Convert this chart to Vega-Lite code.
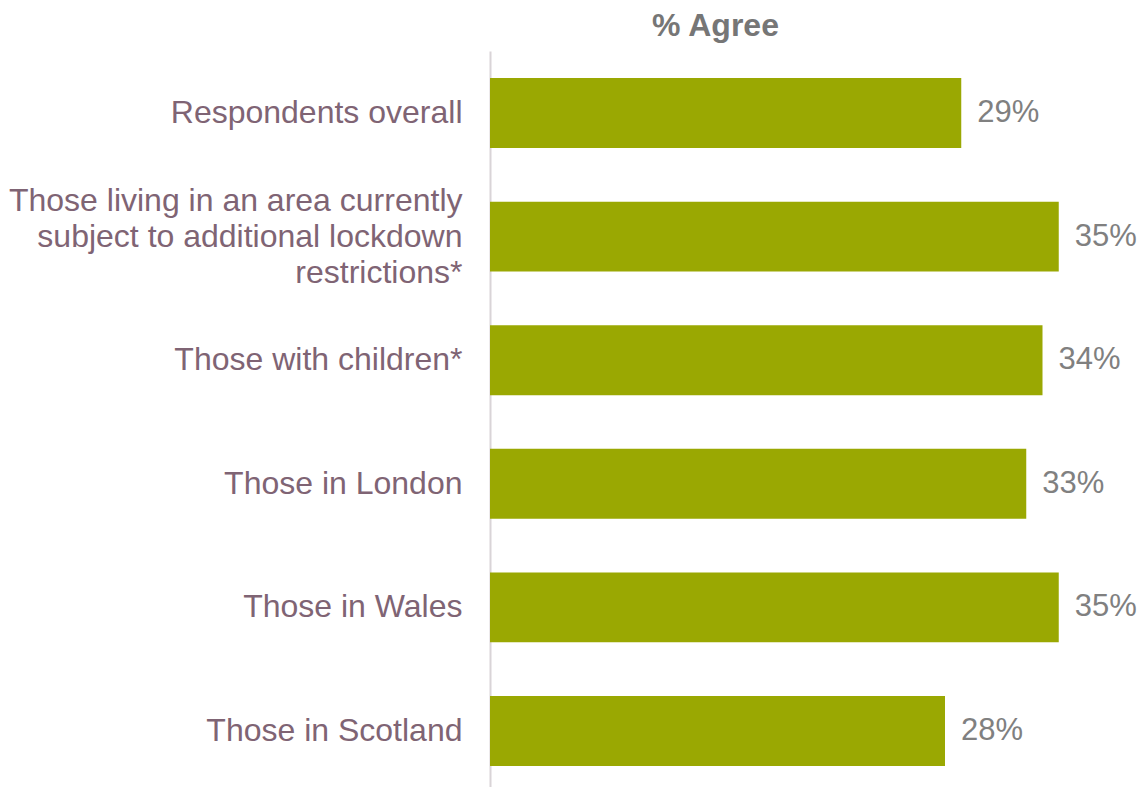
{
  "$schema": "https://vega.github.io/schema/vega-lite/v6.json",
  "autosize": "none",
  "padding": {"left": 490, "top": 51, "right": 6, "bottom": 0},
  "width": 650,
  "height": 736,
  "background": "white",
  "config": {"view": {"stroke": null}, "font": "Liberation Sans"},
  "data": {
    "values": [
      {"group": "Respondents overall", "pct": 0.29},
      {"group": "Those living in an area currently|subject to additional lockdown|restrictions*", "pct": 0.35},
      {"group": "Those with children*", "pct": 0.34},
      {"group": "Those in London", "pct": 0.33},
      {"group": "Those in Wales", "pct": 0.35},
      {"group": "Those in Scotland", "pct": 0.28}
    ]
  },
  "encoding": {
    "y": {
      "field": "group",
      "type": "nominal",
      "sort": null,
      "scale": {"paddingInner": 0.434, "paddingOuter": 0.1945, "align": 0.5625},
      "axis": {
        "title": null,
        "labelExpr": "split(datum.label, '|')",
        "labelFont": "Liberation Sans",
        "labelFontSize": 32,
        "labelColor": "#7f6474",
        "labelLineHeight": 36,
        "labelPadding": 28,
        "labelLimit": 500,
        "labelOffset": {"condition": {"test": "indexof(datum.value, '|') >= 0", "value": -36}, "value": 0},
        "ticks": false,
        "domainColor": "#d9d4d7",
        "domainWidth": 2,
        "grid": false
      }
    },
    "x": {
      "field": "pct",
      "type": "quantitative",
      "scale": {"domain": [0, 0.4]},
      "axis": {
        "orient": "top",
        "title": "% Agree",
        "titleFont": "Liberation Sans",
        "titleFontSize": 32,
        "titleFontWeight": "bold",
        "titleColor": "#767676",
        "titleX": 225,
        "titleY": -26,
        "titleAlign": "center",
        "titleBaseline": "middle",
        "labels": false,
        "ticks": false,
        "domain": false,
        "grid": false
      }
    }
  },
  "layer": [
    {"mark": {"type": "bar", "color": "#9aa802"}},
    {
      "mark": {"type": "text", "align": "left", "baseline": "middle", "dx": 16, "fontSize": 31, "font": "Liberation Sans", "color": "#808080"},
      "encoding": {"text": {"field": "pct", "type": "quantitative", "format": ".0%"}}
    }
  ]
}
